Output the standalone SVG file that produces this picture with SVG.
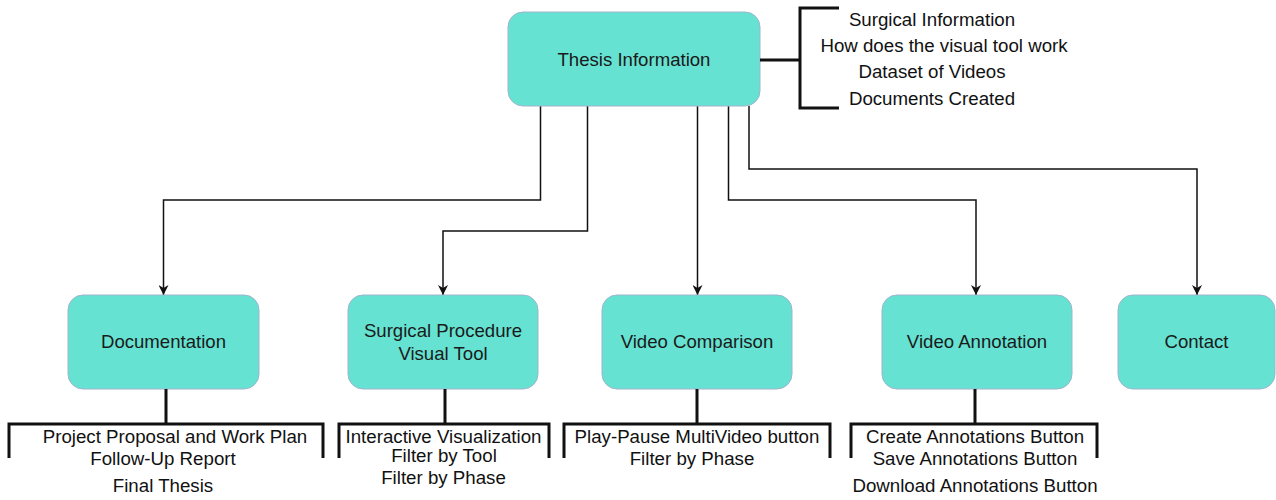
<svg xmlns="http://www.w3.org/2000/svg" width="1276" height="500" viewBox="0 0 1276 500">
<style>
.box{fill:#66e2d2;stroke:#9fb4cc;stroke-width:1}
.lbl{font-family:"Liberation Sans",Arial,sans-serif;font-size:18.6px;fill:#1a1a1a;text-anchor:middle;dominant-baseline:central}
.txt{font-family:"Liberation Sans",Arial,sans-serif;font-size:18.7px;fill:#111;text-anchor:middle;dominant-baseline:central}
.conn{fill:none;stroke:#111;stroke-width:1.5}
.brk{fill:none;stroke:#111;stroke-width:3}
</style>
<defs>
<marker id="arr" viewBox="0 0 10 10" refX="10" refY="5" markerWidth="10" markerHeight="10" markerUnits="userSpaceOnUse" orient="auto">
<path d="M0,0 L10,5 L0,10 L3,5 Z" fill="#111"/>
</marker>
</defs>
<g id="connectors">
<path class="conn" d="M540.5 106 V200 H163.5 V295" marker-end="url(#arr)"/>
<path class="conn" d="M587.5 106 V231 H443 V295" marker-end="url(#arr)"/>
<path class="conn" d="M697.5 106 V295" marker-end="url(#arr)"/>
<path class="conn" d="M728.5 106 V200 H976 V295" marker-end="url(#arr)"/>
<path class="conn" d="M749 106 V169 H1197 V295" marker-end="url(#arr)"/>
</g>
<g id="thesis">
<rect class="box" x="508" y="12" width="252" height="94" rx="15"/>
<text class="lbl" x="634" y="59.5">Thesis Information</text>
</g>
<g id="thesis-items">
<path class="brk" d="M760 60 H800 M839 8 H800 V108 H839"/>
<text class="txt" x="932" y="19.5">Surgical Information</text>
<text class="txt" x="944" y="45.5">How does the visual tool work</text>
<text class="txt" x="932" y="71.5">Dataset of Videos</text>
<text class="txt" x="932" y="98.5">Documents Created</text>
</g>
<g id="documentation">
<rect class="box" x="68" y="295" width="191" height="94" rx="15"/>
<text class="lbl" x="163.5" y="341.5">Documentation</text>
</g>
<g id="documentation-items">
<path class="brk" d="M166 389 V424 M9 458 V424 H323 V458"/>
<text class="txt" x="175" y="436.5">Project Proposal and Work Plan</text>
<text class="txt" x="163" y="458.5">Follow-Up Report</text>
<text class="txt" x="163" y="485.5">Final Thesis</text>
</g>
<g id="surgical">
<rect class="box" x="348" y="295" width="190" height="94" rx="15"/>
<text class="lbl" x="443" y="330.5">Surgical Procedure</text>
<text class="lbl" x="443" y="353.5">Visual Tool</text>
</g>
<g id="surgical-items">
<path class="brk" d="M445 389 V424 M339 458 V424 H549 V458"/>
<text class="txt" x="443.5" y="436">Interactive Visualization</text>
<text class="txt" x="444" y="455.5">Filter by Tool</text>
<text class="txt" x="443.5" y="477">Filter by Phase</text>
</g>
<g id="comparison">
<rect class="box" x="602" y="295" width="190" height="94" rx="15"/>
<text class="lbl" x="697" y="341.5">Video Comparison</text>
</g>
<g id="comparison-items">
<path class="brk" d="M697 389 V424 M564 458 V424 H830 V458"/>
<text class="txt" x="697" y="436.5">Play-Pause MultiVideo button</text>
<text class="txt" x="692" y="458.5">Filter by Phase</text>
</g>
<g id="annotation">
<rect class="box" x="882" y="295" width="190" height="94" rx="15"/>
<text class="lbl" x="977" y="341.5">Video Annotation</text>
</g>
<g id="annotation-items">
<path class="brk" d="M975 389 V424 M851 458 V424 H1097 V458"/>
<text class="txt" x="975" y="436.5">Create Annotations Button</text>
<text class="txt" x="975" y="458.5">Save Annotations Button</text>
<text class="txt" x="975" y="485.5">Download Annotations Button</text>
</g>
<g id="contact">
<rect class="box" x="1118" y="295" width="157" height="94" rx="15"/>
<text class="lbl" x="1196.5" y="341.5">Contact</text>
</g>
</svg>
